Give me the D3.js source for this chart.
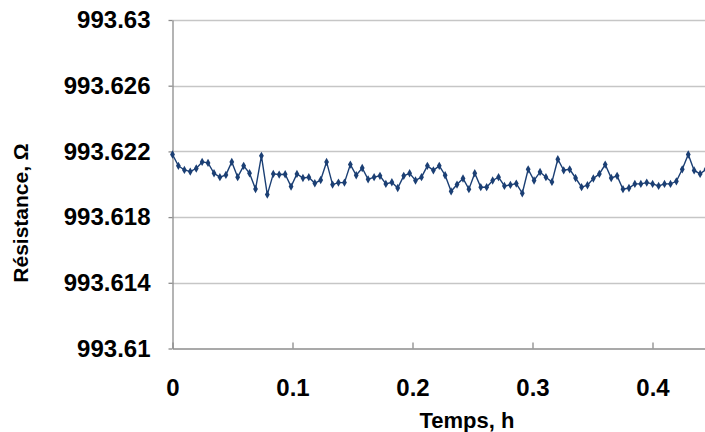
<!DOCTYPE html>
<html>
<head>
<meta charset="utf-8">
<script src="https://cdn.jsdelivr.net/npm/d3@7"></script>
<style>
  html, body { margin: 0; padding: 0; background: #fff; }
  svg { display: block; }
  text { font-family: "Liberation Sans", Arial, sans-serif; font-weight: bold; fill: #000; }
</style>
</head>
<body>
<svg id="chart" width="705" height="432"></svg>
<script>
// Time (h)
const times = [0, 0.0049, 0.0099, 0.0148, 0.0198, 0.0247, 0.0296, 0.0346, 0.0395, 0.0445,
  0.0494, 0.0543, 0.0593, 0.0642, 0.0692, 0.0741, 0.079, 0.084, 0.0889, 0.0939,
  0.0988, 0.1037, 0.1087, 0.1136, 0.1186, 0.1235, 0.1284, 0.1334, 0.1383, 0.1433,
  0.1482, 0.1531, 0.1581, 0.163, 0.168, 0.1729, 0.1778, 0.1828, 0.1877, 0.1927,
  0.1976, 0.2025, 0.2075, 0.2124, 0.2174, 0.2223, 0.2272, 0.2322, 0.2371, 0.2421,
  0.247, 0.2519, 0.2569, 0.2618, 0.2668, 0.2717, 0.2766, 0.2816, 0.2865, 0.2915,
  0.2964, 0.3013, 0.3063, 0.3112, 0.3162, 0.3211, 0.326, 0.331, 0.3359, 0.3409,
  0.3458, 0.3507, 0.3557, 0.3606, 0.3656, 0.3705, 0.3754, 0.3804, 0.3853, 0.3903,
  0.3952, 0.4001, 0.4051, 0.41, 0.415, 0.4199, 0.4248, 0.4298, 0.4347, 0.4397,
  0.4446];
// Resistance (ohm)
const resistance = [993.62181, 993.62112, 993.62087, 993.62077, 993.62096, 993.62136, 993.62130, 993.62067, 993.62043, 993.62057,
  993.62136, 993.62043, 993.62112, 993.62067, 993.61971, 993.62173, 993.61937, 993.62063, 993.62059, 993.62061,
  993.61986, 993.62063, 993.62038, 993.62043, 993.62006, 993.62026, 993.62136, 993.61998, 993.62010, 993.62010,
  993.62120, 993.62055, 993.62099, 993.62030, 993.62043, 993.62051, 993.62002, 993.62012, 993.61977, 993.62051,
  993.62067, 993.62023, 993.62043, 993.62112, 993.62085, 993.62112, 993.62055, 993.61957, 993.61998, 993.62035,
  993.61970, 993.62067, 993.61982, 993.61982, 993.62023, 993.62043, 993.61990, 993.61996, 993.62004, 993.61945,
  993.62091, 993.62023, 993.62075, 993.62043, 993.62014, 993.62152, 993.62085, 993.62091, 993.62038, 993.61982,
  993.61994, 993.62035, 993.62063, 993.62120, 993.62038, 993.62051, 993.61970, 993.61977, 993.62002, 993.62002,
  993.62010, 993.62002, 993.61990, 993.62002, 993.62002, 993.62018, 993.62091, 993.62181, 993.62084, 993.62063,
  993.62091];
const xTicks = [0, 0.1, 0.2, 0.3, 0.4];
const xTickLabels = ["0", "0.1", "0.2", "0.3", "0.4"];
const yTicks = [993.61, 993.614, 993.618, 993.622, 993.626, 993.63];
const yTickLabels = ["993.61", "993.614", "993.618", "993.622", "993.626", "993.63"];
const xTitle = "Temps, h";
const yTitle = "Résistance, Ω";

const svg = d3.select("#chart");
const mLeft = 172.5, mRight = 705, mTop = 20, mBottom = 348.5;

const x = d3.scaleLinear().domain([0, 0.44375]).range([mLeft, mRight]);
const y = d3.scaleLinear().domain([993.61, 993.63]).range([mBottom, mTop]);

// gridlines
svg.append("g").selectAll("line").data(yTicks.slice(1)).join("line")
  .attr("x1", mLeft).attr("x2", mRight)
  .attr("y1", d => Math.round(y(d)) + 0.5).attr("y2", d => Math.round(y(d)) + 0.5)
  .attr("stroke", "#c6c6c6").attr("stroke-width", 1.3);

// y axis
const yAxis = d3.axisLeft(y).tickValues(yTicks)
  .tickFormat((d, i) => yTickLabels[i]).tickSizeInner(4).tickSizeOuter(0).tickPadding(18);
const gy = svg.append("g").attr("transform", `translate(${mLeft},0)`).call(yAxis);
gy.select(".domain").attr("stroke", "#8c8c8c").attr("stroke-width", 1.3);
gy.selectAll(".tick line").attr("stroke", "#8c8c8c").attr("stroke-width", 1.3);
gy.selectAll(".tick text").attr("font-size", 24).attr("font-family", "Liberation Sans, Arial, sans-serif")
  .attr("font-weight", "bold").attr("fill", "#000");

// x axis
const xAxis = d3.axisBottom(x).tickValues(xTicks)
  .tickFormat((d, i) => xTickLabels[i]).tickSizeInner(-6).tickSizeOuter(0).tickPadding(30);
const gx = svg.append("g").attr("transform", `translate(0,${mBottom})`).call(xAxis);
gx.select(".domain").attr("stroke", "#8c8c8c").attr("stroke-width", 1.3);
gx.selectAll(".tick line").attr("stroke", "#8c8c8c").attr("stroke-width", 1.3);
gx.selectAll(".tick text").attr("font-size", 24).attr("font-family", "Liberation Sans, Arial, sans-serif")
  .attr("font-weight", "bold").attr("fill", "#000");

// clip
svg.append("defs").append("clipPath").attr("id", "plotclip")
  .append("rect").attr("x", mLeft - 6).attr("y", 0).attr("width", mRight - mLeft + 6).attr("height", mBottom);

const data = times.map((t, i) => ({ t, r: resistance[i] }));
const line = d3.line().x(d => x(d.t)).y(d => y(d.r));
const plot = svg.append("g").attr("clip-path", "url(#plotclip)");
plot.append("path").datum(data).attr("d", line)
  .attr("fill", "none").attr("stroke", "#1b3f74").attr("stroke-width", 1.4);
plot.selectAll("path.m").data(data).join("path").attr("class", "m")
  .attr("d", d3.symbol().type(d3.symbolDiamond).size(20))
  .attr("transform", d => `translate(${x(d.t)},${y(d.r)})`)
  .attr("fill", "#1b3f74");

// titles
svg.append("text").attr("x", 467).attr("y", 428).attr("text-anchor", "middle")
  .attr("font-size", 22).text(xTitle);
svg.append("text").attr("transform", "translate(28,213) rotate(-90)").attr("text-anchor", "middle")
  .attr("font-size", 21).text(yTitle);
</script>
</body>
</html>
